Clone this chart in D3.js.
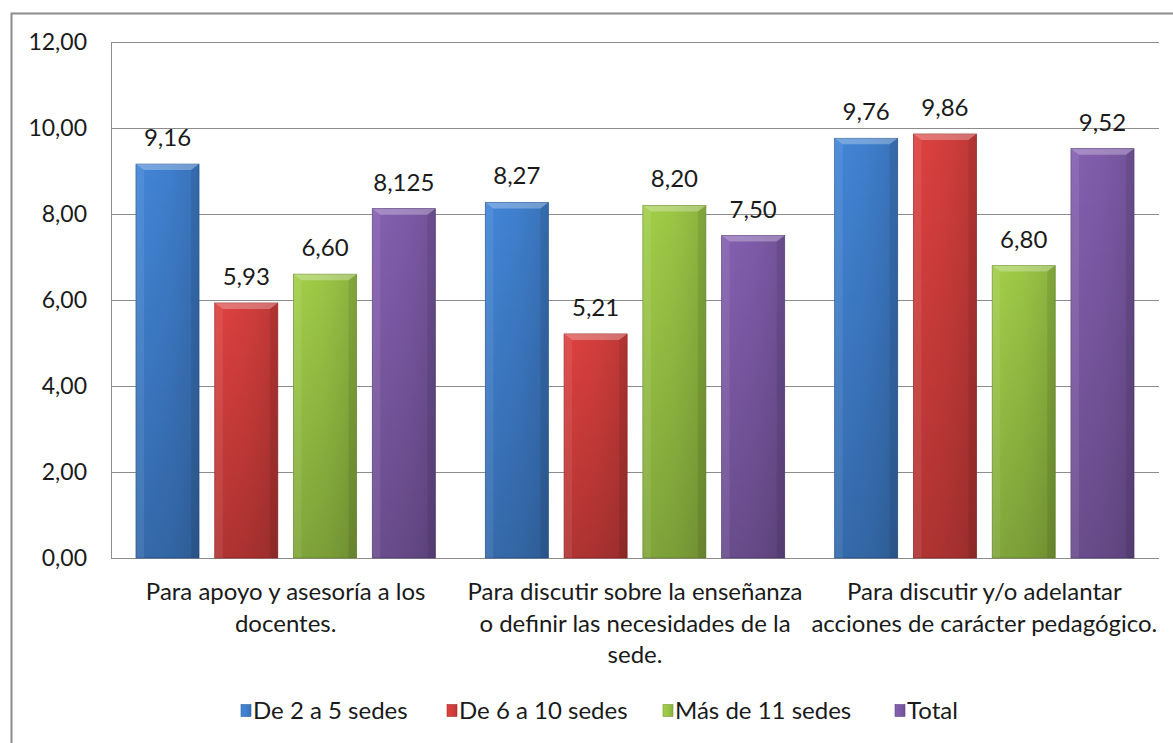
<!DOCTYPE html>
<html><head><meta charset="utf-8">
<script src="https://cdn.jsdelivr.net/npm/d3@7"></script>
<style>
body{margin:0;background:#fff;}
text{font-family:Lato, "Open Sans", sans-serif;fill:#1a1a1a;}
</style></head>
<body>
<svg id="c" width="1173" height="743"></svg>
<script>
const categories = [
  ["Para apoyo y asesoría a los", "docentes."],
  ["Para discutir sobre la enseñanza", "o definir las necesidades de la", "sede."],
  ["Para discutir y/o adelantar", "acciones de carácter pedagógico."]
];
const seriesNames = ["De 2 a 5 sedes", "De 6 a 10 sedes", "Más de 11 sedes", "Total"];
const s1 = [9.16, 8.27, 9.76];
const s2 = [5.93, 5.21, 9.86];
const s3 = [6.60, 8.20, 6.80];
const s4 = [8.125, 7.50, 9.52];
const labels1 = ["9,16", "8,27", "9,76"];
const labels2 = ["5,93", "5,21", "9,86"];
const labels3 = ["6,60", "8,20", "6,80"];
const labels4 = ["8,125", "7,50", "9,52"];
const yTicks = [0, 2, 4, 6, 8, 10, 12];
const colors = ["#3F7FCD", "#D23E3C", "#9AC545", "#7E5BA8"];
const darks = ["#2E5E9C", "#A22F2D", "#75983A", "#5E4583"];

const values = [s1, s2, s3, s4];
const labs = [labels1, labels2, labels3, labels4];

const svg = d3.select("#c");
svg.append("rect").attr("x", 11.5).attr("y", 13.5).attr("width", 1200).attr("height", 800)
  .attr("fill", "none").attr("stroke", "#8c8c8c").attr("stroke-width", 2);

const pL = 111, pR = 1159, pT = 42, pB = 558;
const y = d3.scaleLinear().domain([0, 12]).range([pB, pT]);
const x0 = d3.scaleBand().domain(d3.range(3)).range([pL, pR]);
const gw = x0.bandwidth();
const x1 = d3.scaleBand().domain(d3.range(4)).range([25, gw - 25]).paddingInner(0.2);

svg.append("g").selectAll("line").data(yTicks).join("line")
  .attr("x1", pL).attr("x2", pR)
  .attr("y1", d => Math.round(y(d)) + 0.5).attr("y2", d => Math.round(y(d)) + 0.5)
  .attr("stroke", "#8c8c8c").attr("stroke-width", 1);
svg.append("line").attr("x1", pL + 0.5).attr("x2", pL + 0.5).attr("y1", pT).attr("y2", pB)
  .attr("stroke", "#8c8c8c");

svg.append("g").selectAll("text").data(yTicks).join("text")
  .attr("x", 87).attr("y", d => y(d)).attr("dy", "0.35em").attr("text-anchor", "end")
  .attr("font-size", 23).text(d => d3.format(".2f")(d).replace(".", ","));

const defs = svg.append("defs");
colors.forEach((c, i) => {
  const g = defs.append("linearGradient").attr("id", "g" + i).attr("x1", 0).attr("x2", 1).attr("y1", 0).attr("y2", 0);
  g.append("stop").attr("offset", "0%").attr("stop-color", d3.color(c).brighter(0.15));
  g.append("stop").attr("offset", "50%").attr("stop-color", c);
  g.append("stop").attr("offset", "100%").attr("stop-color", d3.color(c).darker(0.3));
  const v = defs.append("linearGradient").attr("id", "v" + i).attr("x1", 0).attr("x2", 0).attr("y1", 0).attr("y2", 1);
  v.append("stop").attr("offset", "0%").attr("stop-color", "#000").attr("stop-opacity", 0);
  v.append("stop").attr("offset", "100%").attr("stop-color", "#000").attr("stop-opacity", 0.2);
});

const data = [];
for (let c = 0; c < 3; c++) for (let s = 0; s < 4; s++) data.push({c, s, v: values[s][c], l: labs[s][c]});
const bars = svg.append("g").selectAll("g").data(data).join("g")
  .attr("transform", d => `translate(${x0(d.c) + x1(d.s)},0)`);
const bw = x1.bandwidth();
bars.append("rect").attr("x", 0).attr("y", d => y(d.v)).attr("width", bw).attr("height", d => pB - y(d.v))
  .attr("fill", d => `url(#g${d.s})`).attr("stroke", d => darks[d.s]).attr("stroke-width", 0.8);
bars.append("rect").attr("x", 0).attr("y", d => y(d.v)).attr("width", bw).attr("height", d => pB - y(d.v))
  .attr("fill", d => `url(#v${d.s})`);
bars.append("path").attr("d", d => {
  const t = y(d.v);
  return `M0,${t} L${bw},${t} L${bw - 8},${t + 6} L8,${t + 6} Z`;
}).attr("fill", "#fff").attr("fill-opacity", 0.28);
bars.append("path").attr("d", d => {
  const t = y(d.v);
  return `M0,${t} L8,${t + 6} L8,${pB} L0,${pB} Z`;
}).attr("fill", "#fff").attr("fill-opacity", 0.08);
bars.append("path").attr("d", d => {
  const t = y(d.v);
  return `M${bw},${t} L${bw - 8},${t + 6} L${bw - 8},${pB} L${bw},${pB} Z`;
}).attr("fill", "#000").attr("fill-opacity", 0.08);

bars.append("text").attr("x", bw / 2).attr("y", d => y(d.v) - 18).attr("text-anchor", "middle")
  .attr("font-size", 24).text(d => d.l);

const cat = svg.append("g").selectAll("text").data(categories).join("text")
  .attr("x", (d, i) => x0(i) + gw / 2).attr("y", 600).attr("text-anchor", "middle").attr("font-size", 24);
cat.selectAll("tspan").data(d => d).join("tspan")
  .attr("x", function () { return d3.select(this.parentNode).attr("x"); })
  .attr("dy", (d, i) => i === 0 ? 0 : 31.5).text(d => d);

const legX = [241, 447, 663, 895];
const leg = svg.append("g").selectAll("g").data(seriesNames).join("g")
  .attr("transform", (d, i) => `translate(${legX[i]},711)`);
leg.append("rect").attr("x", 0).attr("y", -6.5).attr("width", 10).attr("height", 12)
  .attr("fill", (d, i) => `url(#g${i})`).attr("stroke", (d, i) => darks[i]).attr("stroke-width", 0.6);
leg.append("text").attr("x", 12).attr("dy", "0.35em").attr("font-size", 24).text(d => d);
</script>
</body></html>
